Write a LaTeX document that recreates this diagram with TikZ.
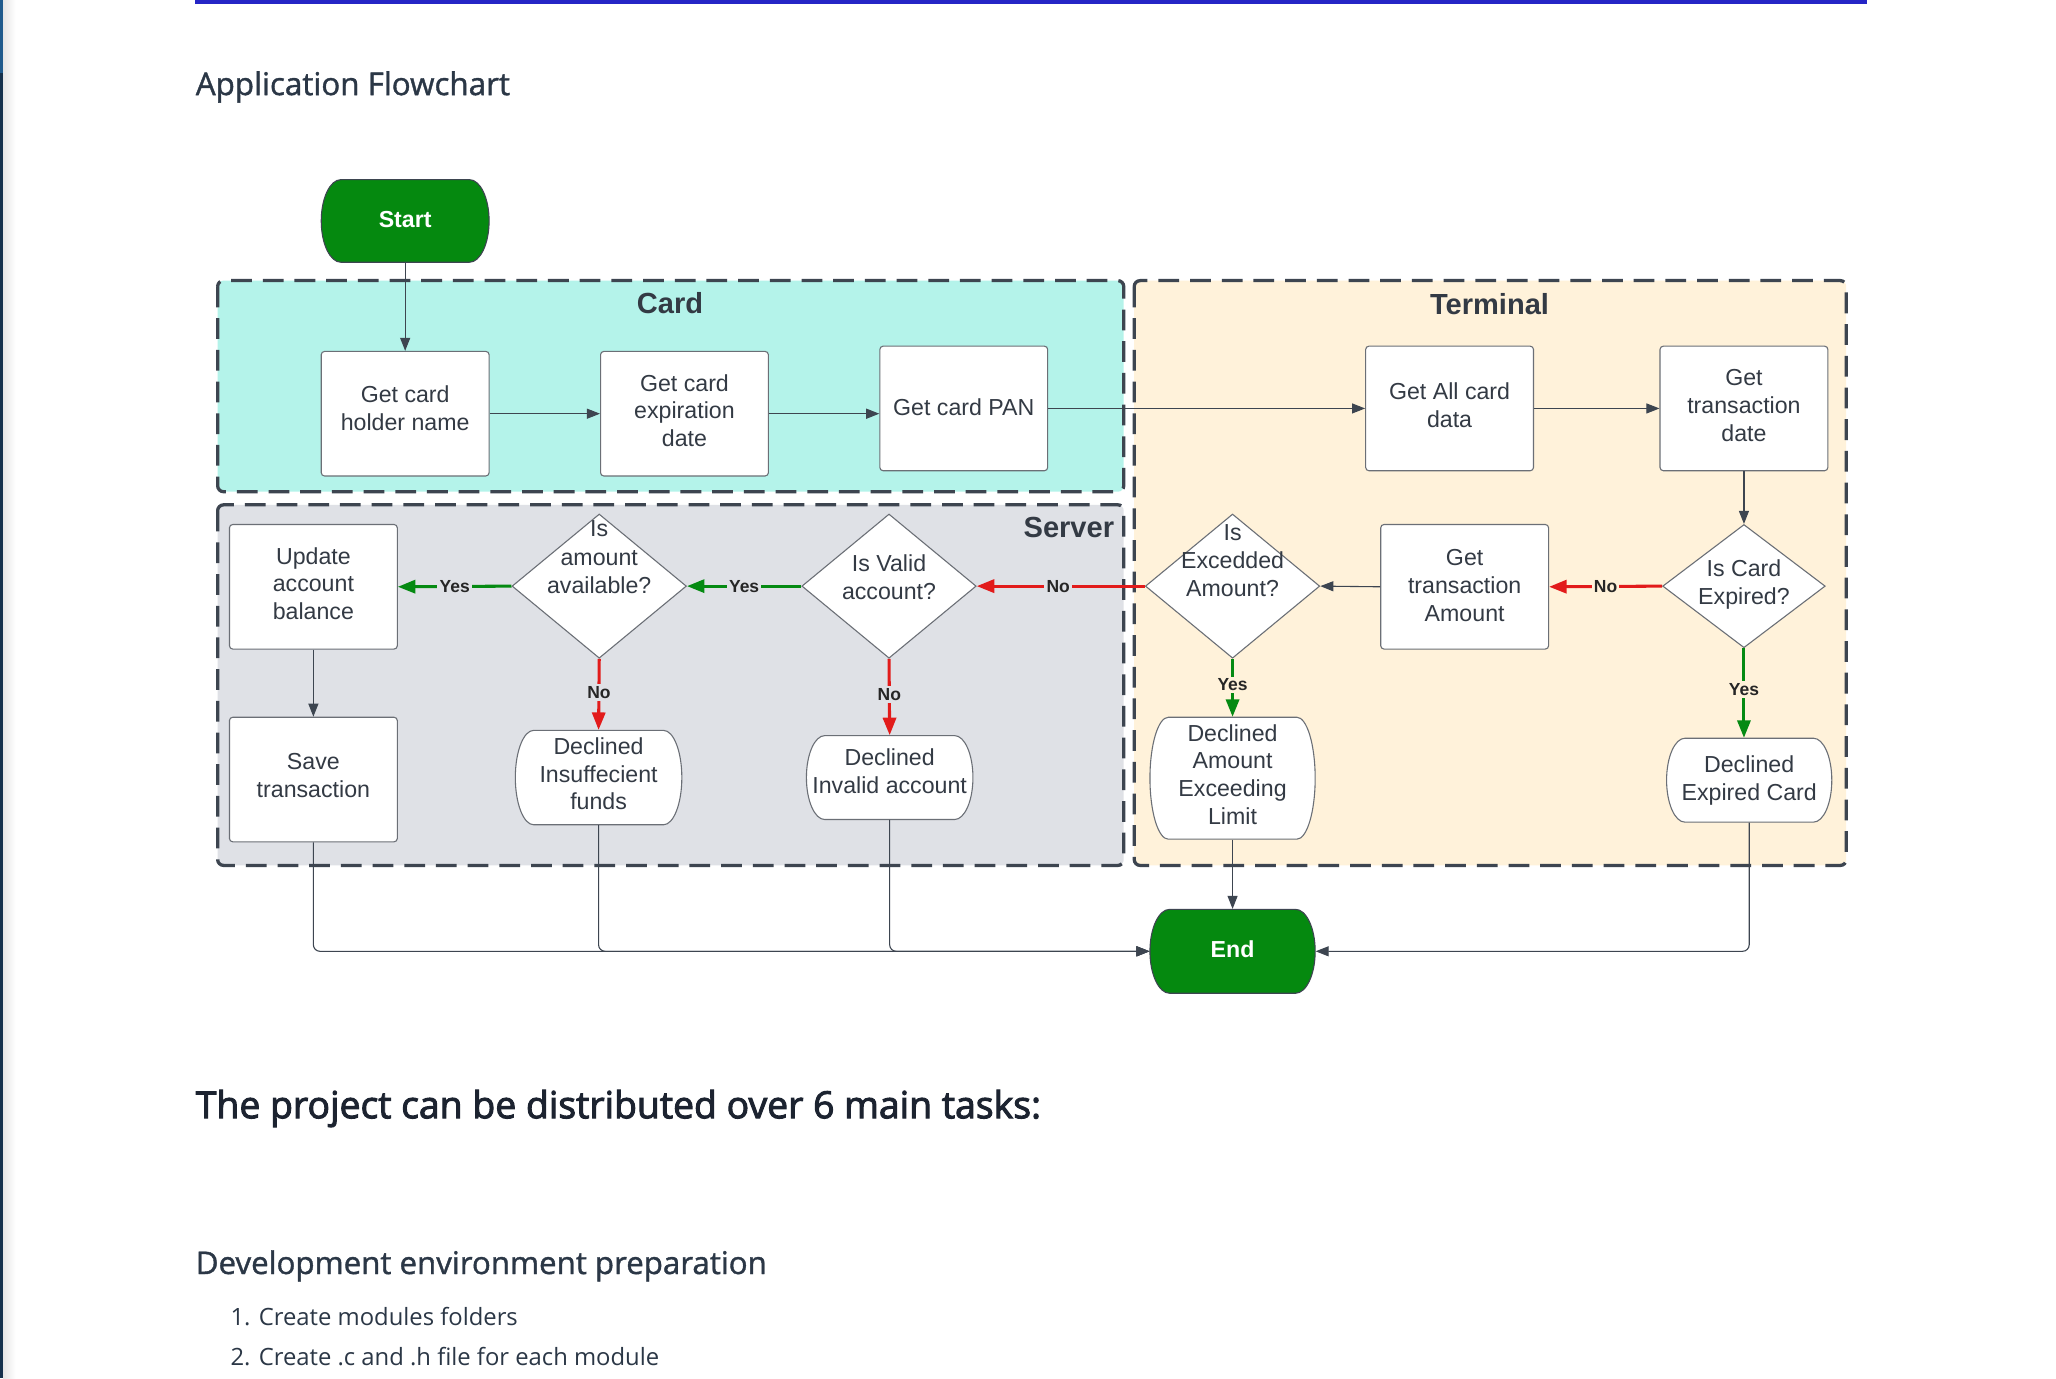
\documentclass[tikz,border=0pt]{standalone}
\usepackage{fontspec}
\setmainfont{Liberation Sans}
\newfontfamily\osans{Open Sans}
\newfontfamily\osansm[FakeBold=1.2]{Open Sans}
\newfontfamily\osanssb[FakeBold=2.6]{Open Sans}
\usetikzlibrary{arrows.meta,shapes.geometric}
\definecolor{cardfill}{HTML}{B4F3EA}
\definecolor{servfill}{HTML}{DFE1E6}
\definecolor{termfill}{HTML}{FFF2DA}
\definecolor{lucgreen}{HTML}{05890F}
\definecolor{edgegreen}{HTML}{058A12}
\definecolor{edgered}{HTML}{E21B1B}
\definecolor{linegray}{HTML}{3D4550}
\definecolor{boxborder}{HTML}{6B6F76}
\definecolor{txtc}{HTML}{333A44}
\definecolor{webtxt}{HTML}{2B3746}
\definecolor{headtxt}{HTML}{1C2330}
\definecolor{topblue}{HTML}{2525C6}
\definecolor{navy}{HTML}{14304C}
\definecolor{navylight}{HTML}{1F5A8C}

% terminator: #1 style, #2 name, #3 cx, #4 cy, #5 half width, #6 half height, #7 rx, #8 text, #9 text style
\newcommand{\termnode}[9]{%
  \filldraw[#1] (#3-#5+#7,#4-#6) -- (#3+#5-#7,#4-#6)
    .. controls (#3+#5-0.448*#7,#4-#6) and (#3+#5,#4-0.552*#6) .. (#3+#5,#4)
    .. controls (#3+#5,#4+0.552*#6) and (#3+#5-0.448*#7,#4+#6) .. (#3+#5-#7,#4+#6)
    -- (#3-#5+#7,#4+#6)
    .. controls (#3-#5+0.448*#7,#4+#6) and (#3-#5,#4+0.552*#6) .. (#3-#5,#4)
    .. controls (#3-#5,#4-0.552*#6) and (#3-#5+0.448*#7,#4-#6) .. cycle;
  \node[#9, minimum width={1.2*#5pt}, minimum height={1.2*#6pt}] (#2) at (#3,#4) {#8};
}

\tikzset{
  container/.style={draw=linegray, line width=1.5pt, dash pattern=on 9.5pt off 5pt, rounded corners=2.7pt},
  ctitle/.style={font=\bfseries\fontsize{13.3}{15}\selectfont, text=txtc, inner sep=0pt},
  box/.style={draw=boxborder, fill=white, line width=0.5pt, rounded corners=1.5pt,
    minimum width=76.8pt, minimum height=57pt, align=center, inner sep=1pt, text depth=3pt,
    font=\fontsize{10.6}{12.7}\selectfont, text=txtc},
  dia/.style={diamond, draw=boxborder, fill=white, line width=0.5pt, inner sep=0pt,
    minimum width=79.8pt, minimum height=66pt},
  dtext/.style={align=center, inner sep=0pt, font=\fontsize{10.6}{12.9}\selectfont, text=txtc},
  ttext/.style={align=center, inner sep=0pt, font=\fontsize{10.6}{12.7}\selectfont, text=txtc},
  gtext/.style={align=center, inner sep=0pt, font=\bfseries\fontsize{10.6}{12.7}\selectfont, text=white},
  declshape/.style={draw=boxborder, fill=white, line width=0.5pt},
  greenshape/.style={draw=linegray, fill=lucgreen, line width=0.5pt},
  conn/.style={draw=linegray, line width=0.5pt, -{Triangle[length=6pt,width=4.6pt]}},
  yesarr/.style={draw=edgegreen, line width=1.4pt, -{Triangle[length=8pt,width=6pt]}},
  noarr/.style={draw=edgered, line width=1.4pt, -{Triangle[length=8pt,width=6pt]}},
  elab/.style={font=\bfseries\fontsize{8}{9}\selectfont, text=black!85, inner sep=1pt},
  web/.style={anchor=base west, inner sep=0pt, text=webtxt}
}

\begin{document}
\begin{tikzpicture}[x=0.6pt, y=-0.6pt]
\useasboundingbox (0,0) rectangle (1568,1051);
\fill[white] (0,0) rectangle (1568,1051);

% page chrome
\shade[left color=black!10, right color=white] (2.3,0) rectangle (12,1051);
\fill[navylight] (0,0) rectangle (2.3,55.7);
\fill[navy] (0,55.7) rectangle (2.3,1051);
\fill[topblue] (149,0) rectangle (1424,3);

\node[web, font=\osansm\fontsize{14.35}{17}\selectfont] (title) at (149,72.5) {Application Flowchart};

% containers
\filldraw[container, fill=cardfill] (166,214) rectangle (857,375);
\filldraw[container, fill=servfill] (166,385) rectangle (857,660);
\filldraw[container, fill=termfill] (865,214) rectangle (1408,660);
\node[ctitle] (cardt) at (511,231) {Card};
\node[ctitle, anchor=east] (servt) at (850,402) {Server};
\node[ctitle] (termt) at (1136,232) {Terminal};

% terminators
\termnode{greenshape}{start}{309}{168.5}{64}{31.5}{15}{Start}{gtext, text depth=1.2pt}
\termnode{greenshape}{end}{940}{725.5}{63}{32}{15}{End}{gtext, text depth=2.4pt}
\termnode{declshape}{insuf}{456.5}{593}{63.5}{36}{14}{Declined\\Insuffecient\\funds}{ttext, text depth=3.6pt}
\termnode{declshape}{invalid}{678.5}{593}{63.5}{32}{14}{Declined\\Invalid account}{ttext, text depth=6pt}
\termnode{declshape}{damt}{940}{593.5}{63}{46.5}{14}{Declined\\Amount\\Exceeding\\Limit}{ttext, text depth=3.6pt}
\termnode{declshape}{dexp}{1334}{595}{63}{32}{14}{Declined\\Expired Card}{ttext}

% boxes
\node[box, text depth=4.8pt] (holder) at (309,315.5) {Get card\\holder name};
\node[box] (expd) at (522,315.5) {Get card\\expiration\\date};
\node[box, text depth=1.2pt] (pan) at (735,311.5) {Get card PAN};
\node[box] (allc) at (1105.5,311.5) {Get All card\\data};
\node[box] (tdate) at (1330,311.5) {Get\\transaction\\date};
\node[box, text depth=1.2pt] (tamt) at (1117,447.5) {Get\\transaction\\Amount};
\node[box] (update) at (239,447.5) {Update\\account\\balance};
\node[box, text depth=3.6pt] (save) at (239,594.5) {Save\\transaction};

% diamonds
\node[dia, minimum width=74.4pt, minimum height=56.4pt,
  label={[dtext, yshift=0.6pt]center:{Is Card\\Expired?}}] (cexp) at (1330,447) {};
\node[dia, label={[dtext, yshift=11.8pt]center:{Is\\Excedded\\Amount?}}] (exc) at (940,447) {};
\node[dia, label={[dtext, yshift=4.2pt]center:{Is Valid\\account?}}] (valid) at (678,447) {};
\node[dia, label={[dtext, yshift=13.2pt]center:{Is\\amount\\available?}}] (avail) at (457,447) {};

% connectors
\draw[conn] (start.south) -- (holder.north);
\draw[conn] (holder.east) -- (expd.west);
\draw[conn] (expd.east) -- (expd.east -| pan.west);
\draw[conn] (pan.east) -- (allc.west);
\draw[conn] (allc.east) -- (tdate.west);
\draw[conn] (tdate.south) -- (cexp.north);
\draw[noarr] (cexp.west) -- node[elab, fill=termfill] {No} (tamt.east);
\draw[conn] (tamt.west) -- (exc.east);
\draw[noarr] (exc.west) -- node[elab, fill=servfill, pos=0.515] {No} (valid.east);
\draw[yesarr] (valid.west) -- node[elab, fill=servfill] {Yes} (avail.east);
\draw[yesarr] (avail.west) -- node[elab, fill=servfill] {Yes} (update.east);
\draw[noarr] (avail.south) -- node[elab, fill=servfill, pos=0.47] {No} (insuf.north);
\draw[noarr] (valid.south) -- node[elab, fill=servfill, pos=0.47] {No} (invalid.north);
\draw[yesarr] (exc.south) -- node[elab, fill=termfill, pos=0.45] {Yes} (damt.north);
\draw[yesarr] (cexp.south) -- node[elab, fill=termfill, pos=0.46] {Yes} (cexp.south |- dexp.north);
\draw[conn] (update.south) -- (save.north);
\draw[conn, rounded corners=3pt] (save.south) |- (end.west);
\draw[conn, rounded corners=3pt] (insuf.south) |- (end.west);
\draw[conn, rounded corners=3pt] (invalid.south) |- (end.west);
\draw[conn] (damt.south) -- (end.north);
\draw[conn, rounded corners=3pt] (dexp.south) |- (end.east);

% page text
\node[web, font=\osanssb\fontsize{17.1}{20}\selectfont, text=headtxt] (tasks) at (149,852.8) {The project can be distributed over 6 main tasks:};
\node[web, font=\osansm\fontsize{14.3}{17}\selectfont] (dev) at (149,971.6) {Development environment preparation};
\node[web, font=\osans\fontsize{10.9}{13}\selectfont] (item1) at (175.5,1010.5) {1. Create modules folders};
\node[web, font=\osans\fontsize{10.9}{13}\selectfont] (item2) at (175.5,1041) {2. Create .c and .h file for each module};
\end{tikzpicture}
\end{document}
